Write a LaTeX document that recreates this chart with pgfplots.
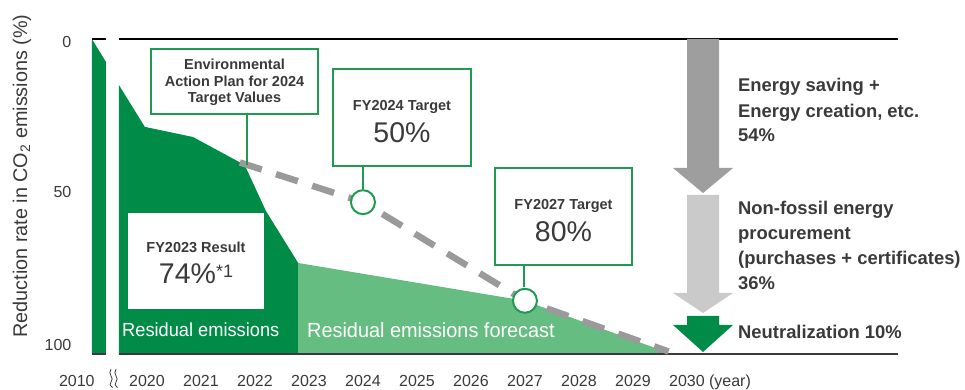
\documentclass[border=0pt]{standalone}
\usepackage{pgfplots}
\pgfplotsset{compat=1.18}
\usepackage{fontspec}
\setmainfont{Liberation Sans}
\definecolor{dkgreen}{HTML}{008C46}
\definecolor{ltgreen}{HTML}{66BD82}
\definecolor{boxgreen}{HTML}{1E9A53}
\definecolor{dashgray}{HTML}{9A9A9A}
\definecolor{arrowgray}{HTML}{9E9E9E}
\definecolor{arrowlight}{HTML}{CACACA}
\definecolor{textgray}{HTML}{3A3A3A}
\begin{document}
\begin{tikzpicture}[x=1pt,y=1pt]
\useasboundingbox (0,0) rectangle (965,390);
\begin{axis}[
  at={(66pt,36pt)}, anchor=south west,
  scale only axis, width=832pt, height=315pt,
  xmin=2018.5, xmax=2033.91, ymin=0, ymax=100,
  y dir=reverse, clip=false,
  axis line style={draw=none}, tick style={draw=none}, major tick length=0pt,
  xtick={2018.7,2020,2021,2022,2023,2024,2025,2026,2027,2028,2029,2030},
  xticklabels={2010,2020,2021,2022,2023,2024,2025,2026,2027,2028,2029,2030\rlap{\ (year)}},
  ytick={0.86,48.5,97.1},
  yticklabels={0,50,100},
  /pgf/number format/assume math mode=true,
  tick label style={font=\fontsize{16}{16}\selectfont, text=textgray},
  xticklabel style={anchor=base, yshift=-32.5pt},
  yticklabel style={anchor=east, inner sep=0pt, xshift=5.5pt},
]
% 2010 bar
\addplot[fill=dkgreen, draw=none] coordinates {(2018.98,0) (2019.24,7.3) (2019.24,100) (2018.98,100)} -- cycle;
% residual emissions (results)
\addplot[fill=dkgreen, draw=none] coordinates {(2019.48,100) (2019.48,14.6) (2019.96,27.9) (2020.85,31.1) (2021.81,40.0) (2022.20,54.5) (2022.80,71.1) (2022.80,100)} -- cycle;
% residual emissions forecast
\addplot[fill=ltgreen, draw=none] coordinates {(2022.80,71.1) (2027,83.1) (2029.72,100) (2022.80,100)} -- cycle;
% axis frame lines with break
\draw[black, line width=1.3pt] (axis cs:2018.98,0) -- (axis cs:2019.24,0);
\draw[black, line width=1.3pt] (axis cs:2019.48,0) -- (axis cs:2033.91,0);
\draw[textgray, line width=2pt] (axis cs:2018.98,100) -- (axis cs:2019.24,100);
\draw[textgray, line width=2pt] (axis cs:2019.48,100) -- (axis cs:2033.91,100);
% target path
\addplot[dashgray, line width=6.5pt, dash pattern=on 23pt off 15pt, line cap=butt] coordinates {(2021.72,39.2) (2024,51.8) (2027,83.1) (2029.66,99.2)};
\addplot[only marks, mark=*, mark size=12pt, mark options={fill=white, draw=boxgreen, line width=2pt}] coordinates {(2024,51.8) (2027,83.1)};
\end{axis}
% y label
\node[rotate=90, anchor=base, text=textgray, font=\fontsize{19.8}{20}\selectfont] at (27,214) {Reduction rate in CO\textsubscript{2} emissions (\%)};
% axis break symbol
\draw[textgray, line width=0.8pt] (111,21) .. controls (107,16) and (115,12) .. (111,8) .. controls (109,6) and (110,4) .. (112.5,2.5);
\draw[textgray, line width=0.8pt] (116,21) .. controls (112,16) and (120,12) .. (116,8) .. controls (114,6) and (115,4) .. (117.5,2.5);
% box 1
\draw[boxgreen, line width=2pt, fill=white] (151,276) rectangle (318,341);
\node[align=center, text=textgray, font=\bfseries\fontsize{14.5}{16.6}\selectfont, anchor=center] at (234.5,307.5) {Environmental\\Action Plan for 2024\\Target Values};
\draw[boxgreen, line width=2pt] (247,276) -- (247,225);
% box 2
\draw[boxgreen, line width=2pt, fill=white] (333,224) rectangle (471,321);
\node[anchor=base, text=textgray, font=\bfseries\fontsize{14.5}{16}\selectfont] at (402,279.8) {FY2024 Target};
\node[anchor=base, text=textgray, font=\fontsize{28.5}{30}\selectfont] at (402,247.8) {50\%};
\draw[boxgreen, line width=2pt] (363,224) -- (363,200.5);
% box 3
\draw[boxgreen, line width=2pt, fill=white] (495,125) rectangle (632,222);
\node[anchor=base, text=textgray, font=\bfseries\fontsize{14.5}{16}\selectfont] at (563.5,180.8) {FY2027 Target};
\node[anchor=base, text=textgray, font=\fontsize{28.5}{30}\selectfont] at (563.5,148.8) {80\%};
\draw[boxgreen, line width=2pt] (524,125) -- (524,102.5);
% box 4 (white)
\fill[white] (128,81) rectangle (264,177);
\node[anchor=base, text=textgray, font=\bfseries\fontsize{14.5}{16}\selectfont] at (196,137.8) {FY2023 Result};
\node[anchor=base, text=textgray, font=\fontsize{28.5}{30}\selectfont] at (196,106.8) {74\%\raisebox{6pt}{\fontsize{18}{18}\selectfont *1}};
% white labels
\node[anchor=base west, inner sep=0pt, text=white, font=\fontsize{19}{20}\selectfont] at (122,53) {\scalebox{0.96}[1]{Residual emissions}};
\node[anchor=base west, inner sep=0pt, text=white, font=\fontsize{20.5}{21}\selectfont] at (307,52) {\scalebox{0.97}[1]{Residual emissions forecast}};
% arrows
\fill[arrowgray] (687,351) -- (719,351) -- (719,222) -- (733,222) -- (703,197) -- (673,222) -- (687,222) -- cycle;
\fill[arrowlight] (687,195) -- (719,195) -- (719,97) -- (733,97) -- (703,77) -- (673,97) -- (687,97) -- cycle;
\fill[dkgreen] (687,74) -- (719,74) -- (719,65) -- (733,65) -- (703,38) -- (673,65) -- (687,65) -- cycle;
% right texts
\begin{scope}[every node/.style={anchor=base west, inner sep=0pt, text=textgray, font=\bfseries\fontsize{18.4}{20}\selectfont}]
\node at (738,298.3) {Energy saving +};
\node at (738,272.7) {Energy creation, etc.};
\node at (738,248.3) {54\%};
\node at (738,175) {Non-fossil energy};
\node at (738,150) {procurement};
\node at (738,125) {(purchases + certificates)};
\node at (738,100) {36\%};
\node at (738,51.7) {Neutralization 10\%};
\end{scope}
\end{tikzpicture}
\end{document}
